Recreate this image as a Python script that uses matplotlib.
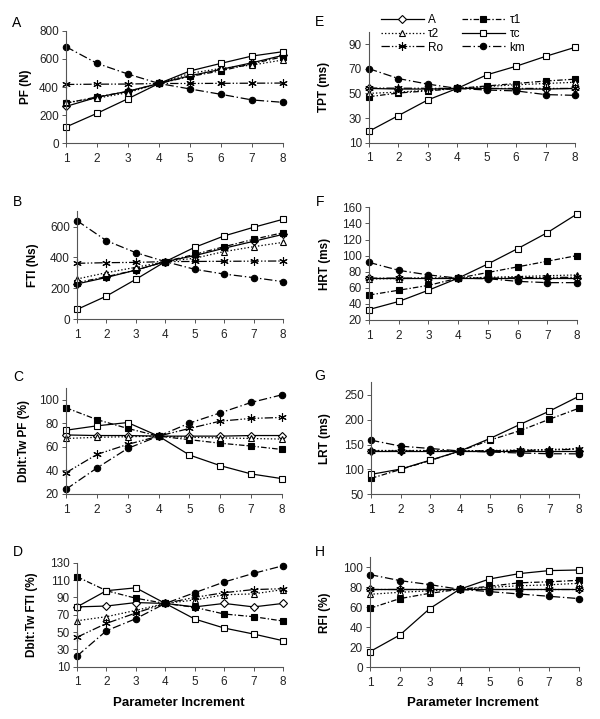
import matplotlib
matplotlib.use("Agg")
import matplotlib.pyplot as plt
from matplotlib.lines import Line2D

plt.rcParams['font.family'] = ['Liberation Sans', 'DejaVu Sans']
plt.rcParams['lines.scale_dashes'] = False

x = [1, 2, 3, 4, 5, 6, 7, 8]
series_names = ["A", "τ1", "τ2", "τc", "Ro", "km"]

# Panel A: PF (N)
pf_A  = [262, 327, 370, 425, 480, 525, 572, 625]
pf_t1 = [284, 330, 368, 425, 475, 515, 565, 615]
pf_t2 = [290, 320, 360, 425, 497, 532, 556, 592]
pf_tc = [116, 213, 317, 425, 514, 568, 620, 651]
pf_Ro = [418, 420, 421, 425, 425, 426, 427, 428]
pf_km = [686, 568, 492, 425, 386, 348, 308, 291]

# Panel B: FTI (Ns)
fti_A  = [228, 270, 318, 373, 412, 460, 505, 550]
fti_t1 = [236, 275, 318, 373, 420, 470, 518, 561]
fti_t2 = [260, 301, 336, 373, 395, 438, 470, 498]
fti_tc = [62, 149, 258, 373, 466, 540, 596, 648]
fti_Ro = [362, 366, 368, 373, 374, 375, 376, 377]
fti_km = [639, 509, 431, 373, 323, 292, 269, 243]

# Panel C: Dblt:Tw PF (%)
dpf_A  = [70, 69.5, 69.5, 69, 69, 69, 69.5, 69.5]
dpf_t1 = [93, 83, 75.5, 69, 66, 63, 60.6, 57.7]
dpf_t2 = [67, 68, 68.5, 69, 68, 67.5, 67, 66.5]
dpf_tc = [74, 77.7, 80.5, 69, 53, 44, 37, 33]
dpf_Ro = [38, 53.5, 62, 69, 75.5, 81.7, 84, 84.8]
dpf_km = [24, 42, 58.6, 69, 80, 88.7, 97.5, 104]

# Panel D: Dblt:Tw FTI (%)
dfti_A  = [79, 80, 84, 83, 79, 83, 79, 83]
dfti_t1 = [113.8, 97.7, 89, 83, 78.5, 70.8, 67.7, 62.7]
dfti_t2 = [63, 67.7, 75, 83, 87, 93, 94, 99]
dfti_tc = [79, 97.7, 101, 83, 65, 54.6, 47.7, 40]
dfti_Ro = [44, 60, 72, 83, 90, 95.4, 99, 100]
dfti_km = [22.3, 51.5, 65.4, 83, 95.4, 107.7, 117.7, 126.5]

# Panel E: TPT (ms)
tpt_A  = [54, 53.5, 53.5, 54, 54, 53.5, 53.5, 54]
tpt_t1 = [47.3, 50.3, 52, 54, 56, 58, 60, 61.5]
tpt_t2 = [50, 51, 52.5, 54, 55.5, 57, 58, 59]
tpt_tc = [19.3, 32, 44.7, 54, 65, 72, 80, 87.3]
tpt_Ro = [54.3, 54.2, 54.1, 54, 54, 54, 54, 54]
tpt_km = [70, 62, 57.5, 54, 52.7, 52, 49, 48.4]

# Panel F: HRT (ms)
hrt_A  = [72, 72, 72, 72, 72, 72, 72, 72]
hrt_t1 = [51, 57, 63, 72, 79, 86, 93, 100]
hrt_t2 = [71, 71.5, 72, 72, 73, 74, 75, 76]
hrt_tc = [33, 43, 57, 72, 89.6, 108.6, 128.5, 151.7]
hrt_Ro = [72, 72, 72, 72, 72, 72.5, 73, 73]
hrt_km = [91.6, 81.7, 76, 72, 71.3, 68, 66.4, 66.4]

# Panel G: LRT (ms)
lrt_A  = [137, 137, 137, 137, 137, 137, 137, 137]
lrt_t1 = [82, 100, 118, 137, 158.7, 177.5, 200.7, 223]
lrt_t2 = [138, 138, 138, 137, 138, 139, 140, 142]
lrt_tc = [90, 100.7, 118.7, 137, 162, 190, 217, 247]
lrt_Ro = [137, 137, 137.5, 137, 137.5, 138, 139, 140.7]
lrt_km = [158.7, 146.7, 142, 137, 135, 133, 131.5, 131.3]

# Panel H: RFI (%)
rfi_A  = [78, 78, 78, 78, 78, 78, 78, 78]
rfi_t1 = [59, 68.7, 74, 78, 81, 84.5, 85.5, 87]
rfi_t2 = [73, 75, 76.5, 78, 80, 81.5, 82.5, 84]
rfi_tc = [15.7, 32.3, 58.7, 78, 88.3, 93.7, 96.7, 97.3]
rfi_Ro = [78, 78, 78, 78, 78, 78, 78, 78]
rfi_km = [92.7, 86.7, 82.7, 78, 75.7, 73.3, 71, 68.7]

panel_letters = ["A", "B", "C", "D", "E", "F", "G", "H"]
ylabels = ["PF (N)", "FTI (Ns)", "Dblt:Tw PF (%)", "Dblt:Tw FTI (%)",
           "TPT (ms)", "HRT (ms)", "LRT (ms)", "RFI (%)"]
panel_data = [
    [pf_A, pf_t1, pf_t2, pf_tc, pf_Ro, pf_km],
    [fti_A, fti_t1, fti_t2, fti_tc, fti_Ro, fti_km],
    [dpf_A, dpf_t1, dpf_t2, dpf_tc, dpf_Ro, dpf_km],
    [dfti_A, dfti_t1, dfti_t2, dfti_tc, dfti_Ro, dfti_km],
    [tpt_A, tpt_t1, tpt_t2, tpt_tc, tpt_Ro, tpt_km],
    [hrt_A, hrt_t1, hrt_t2, hrt_tc, hrt_Ro, hrt_km],
    [lrt_A, lrt_t1, lrt_t2, lrt_tc, lrt_Ro, lrt_km],
    [rfi_A, rfi_t1, rfi_t2, rfi_tc, rfi_Ro, rfi_km],
]
ylims = [(0, 800), (0, 700), (20, 110), (10, 130),
         (10, 100), (20, 160), (50, 275), (0, 110)]
yticks = [range(0, 801, 200), range(0, 601, 200), range(20, 101, 20),
          range(10, 131, 20), range(10, 91, 20), range(20, 161, 20),
          range(50, 251, 50), range(0, 101, 20)]

# layout (pixels): x0, x1, ytop, ybottom, ylabel x, letter x, letter y
W, H = 600, 719
layout = [
    (66, 283, 30.7, 143.3, 32, 17, 23),
    (77, 283, 211.3, 319.0, 39, 18, 202),
    (66, 282, 387.7, 494.0, 30, 18, 377),
    (77, 283, 562.7, 666.7, 38, 18, 552),
    (369, 575, 31.7, 142.7, 330, 320, 22),
    (369, 577, 207.3, 320.0, 331, 320, 202),
    (371, 579, 382.3, 494.3, 331, 320, 376),
    (370, 579, 557.3, 667.3, 331, 320, 552),
]

styles = {
    "A":  dict(ls='-', marker='D', ms=3.6, mfc='white'),
    "τ1": dict(ls=(0, (4, 1.5, 1, 1.5)), marker='s', ms=4.2, mfc='black'),
    "τ2": dict(ls=(0, (1, 1.5)), marker='^', ms=4.4, mfc='white'),
    "τc": dict(ls='-', marker='s', ms=4.4, mfc='white'),
    "Ro": dict(ls=(0, (6, 1.5, 1, 1.5, 1, 1.5)), marker=(6, 2, 0), ms=6, mfc='black'),
    "km": dict(ls=(0, (6, 2, 1, 2)), marker='o', ms=4.6, mfc='black'),
}

fig = plt.figure(figsize=(W / 100, H / 100), dpi=100)

for i in range(8):
    x0, x1, yt, yb, ylx, lx, ly = layout[i]
    ax = fig.add_axes([x0 / W, 1 - yb / H, (x1 - x0) / W, (yb - yt) / H])
    for name, vals in zip(series_names, panel_data[i]):
        st = styles[name]
        ax.plot(x, vals, color='black', lw=0.9, linestyle=st['ls'],
                marker=st['marker'], markersize=st['ms'],
                markerfacecolor=st['mfc'], markeredgecolor='black',
                markeredgewidth=0.8, clip_on=False, label=name)
    ax.set_xlim(1, 8)
    ax.set_ylim(*ylims[i])
    ax.set_xticks(x)
    ax.set_yticks(list(yticks[i]))
    for s in ['top', 'right']:
        ax.spines[s].set_visible(False)
    for s in ['left', 'bottom']:
        ax.spines[s].set_color('#555555')
        ax.spines[s].set_linewidth(0.8)
    ax.tick_params(axis='both', labelsize=8.5, length=3, width=0.7,
                   color='#555555', labelcolor='#222222')
    ax.tick_params(axis='x', pad=4)
    ax.tick_params(axis='y', pad=2)
    ax.set_ylabel(ylabels[i], fontsize=8.5, fontweight='bold')
    ax.yaxis.set_label_coords((ylx - x0) / (x1 - x0), 0.5)
    fig.text(lx / W, 1 - ly / H, panel_letters[i], fontsize=10,
             ha='center', va='center')
    if i == 4:
        handles = [Line2D([], [], color='black', lw=0.9,
                          linestyle=styles[n]['ls'], marker=styles[n]['marker'],
                          markersize=styles[n]['ms'],
                          markerfacecolor=styles[n]['mfc'],
                          markeredgecolor='black', markeredgewidth=0.8)
                   for n in series_names]
        order = [0, 2, 4, 1, 3, 5]
        fig.legend([handles[k] for k in order],
                   [series_names[k] for k in order],
                   ncol=2, loc='upper left',
                   bbox_to_anchor=(381 / W, 1 - 14 / H),
                   frameon=False, fontsize=8.5, handlelength=3.6,
                   handletextpad=0.4, columnspacing=1.6, labelspacing=0.15,
                   borderpad=0, borderaxespad=0)

fig.text(179 / W, 1 - 703 / H, "Parameter Increment", fontsize=9.5,
         fontweight='bold', ha='center', va='center')
fig.text(473 / W, 1 - 703 / H, "Parameter Increment", fontsize=9.5,
         fontweight='bold', ha='center', va='center')

fig.savefig("out.png", dpi=100)
